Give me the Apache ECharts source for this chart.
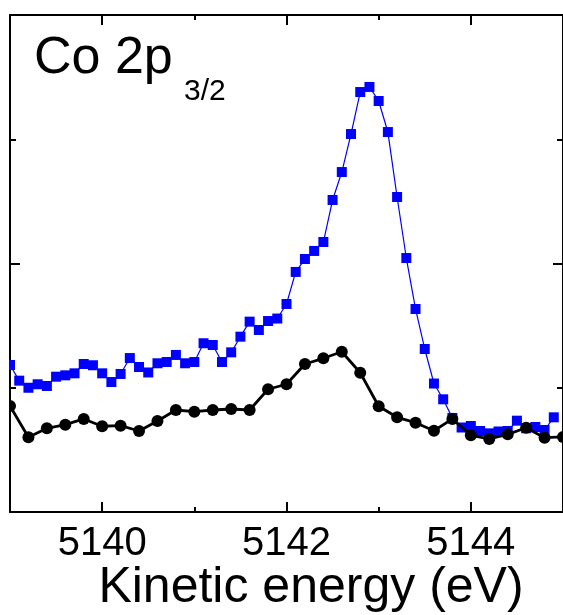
<!DOCTYPE html>
<html>
<head>
<meta charset="utf-8">
<script src="https://cdn.jsdelivr.net/npm/echarts@6/dist/echarts.min.js"></script>
<style>
html,body{margin:0;padding:0;background:#fff;}
#chart{width:563px;height:615px;}
</style>
</head>
<body>
<div id="chart"></div>
<script>
// ---- data (intensity in arbitrary units) ----
const blueEnergy = [5139.0,5139.1,5139.2,5139.3,5139.4,5139.5,5139.6,5139.7,5139.8,5139.9,
  5140.0,5140.1,5140.2,5140.3,5140.4,5140.5,5140.6,5140.7,5140.8,5140.9,
  5141.0,5141.1,5141.2,5141.3,5141.4,5141.5,5141.6,5141.7,5141.8,5141.9,
  5142.0,5142.1,5142.2,5142.3,5142.4,5142.5,5142.6,5142.7,5142.8,5142.9,
  5143.0,5143.1,5143.2,5143.3,5143.4,5143.5,5143.6,5143.7,5143.8,5143.9,
  5144.0,5144.1,5144.2,5144.3,5144.4,5144.5,5144.6,5144.7,5144.8,5144.9];
const blueIntensity = [1.183,1.057,1.000,1.028,1.014,1.089,1.100,1.116,1.191,1.181,
  1.116,1.046,1.111,1.239,1.167,1.123,1.197,1.207,1.264,1.197,
  1.207,1.358,1.344,1.207,1.285,1.411,1.532,1.465,1.537,1.557,
  1.674,1.932,2.036,2.101,2.173,2.511,2.736,3.042,3.380,3.421,
  3.308,3.058,2.535,2.044,1.634,1.312,1.034,0.907,0.757,0.680,
  0.692,0.652,0.633,0.648,0.652,0.735,0.674,0.684,0.660,0.762];
const blackEnergy = [5139.0,5139.2,5139.4,5139.6,5139.8,5140.0,5140.2,5140.4,5140.6,5140.8,
  5141.0,5141.2,5141.4,5141.6,5141.8,5142.0,5142.2,5142.4,5142.6,5142.8,
  5143.0,5143.2,5143.4,5143.6,5143.8,5144.0,5144.2,5144.4,5144.6,5144.8,5145.0];
const blackIntensity = [0.853,0.601,0.674,0.703,0.749,0.690,0.695,0.652,0.732,0.821,
  0.807,0.821,0.829,0.821,0.988,1.028,1.191,1.237,1.290,1.121,
  0.851,0.762,0.719,0.654,0.749,0.617,0.588,0.625,0.678,0.598,0.604];
const xMajorTicks = [5140, 5142, 5144];
const xMinorTicks = [5141, 5143];
const xRange = [5139, 5145];
const yRange = [0, 4];
const titleMain = 'Co 2p';
const titleSub = '3/2';
const xTitle = 'Kinetic energy (eV)';

const FONT = '"Liberation Sans", Arial, Helvetica, sans-serif';
const pair = (xs, ys) => xs.map((x, i) => [x, ys[i]]);

const chart = echarts.init(document.getElementById('chart'), null, {renderer: 'canvas'});
const lineCol = '#000';
function xAx(pos, ticks, len, showLine, showLabel) {
  return {
    type: 'value', position: pos, min: xRange[0], max: xRange[1],
    axisLine: {show: showLine, onZero: false, lineStyle: {color: lineCol, width: 2}},
    axisTick: {show: true, inside: true, length: len, customValues: ticks, lineStyle: {color: lineCol, width: 2}},
    axisLabel: {show: showLabel, customValues: ticks, margin: 12, color: '#000', fontSize: 40, fontFamily: FONT,
      formatter: v => String(v)},
    splitLine: {show: false}
  };
}
function yAx(pos, showLine) {
  return {
    type: 'value', position: pos, min: yRange[0], max: yRange[1], interval: 2,
    axisLine: {show: showLine, onZero: false, lineStyle: {color: lineCol, width: 2}},
    axisTick: {show: true, inside: true, length: 10, lineStyle: {color: lineCol, width: 2}},
    minorTick: {show: true, splitNumber: 2, length: 6, lineStyle: {color: lineCol, width: 2}},
    axisLabel: {show: false},
    splitLine: {show: false}
  };
}
const option = {
  animation: false,
  backgroundColor: '#fff',
  grid: {left: 10, top: 15, width: 558, height: 497, containLabel: false},
  xAxis: [
    xAx('bottom', xMajorTicks, 10, true, true),
    xAx('bottom', xMinorTicks, 5, false, false),
    xAx('top', xMajorTicks, 10, true, false),
    xAx('top', xMinorTicks, 5, false, false)
  ],
  yAxis: [yAx('left', true), yAx('right', true)],
  series: [
    {
      type: 'line', xAxisIndex: 0, yAxisIndex: 0,
      data: pair(blueEnergy, blueIntensity),
      symbol: 'rect', symbolSize: 10, showAllSymbol: true,
      itemStyle: {color: '#0000ff'},
      lineStyle: {color: '#0000ff', width: 1.2},
      z: 2
    },
    {
      type: 'line', xAxisIndex: 0, yAxisIndex: 0,
      data: pair(blackEnergy, blackIntensity),
      symbol: 'circle', symbolSize: 12, showAllSymbol: true,
      itemStyle: {color: '#000'},
      lineStyle: {color: '#000', width: 2.8},
      z: 3
    }
  ],
  graphic: [
    {type: 'rect', shape: {x: 0, y: 0, width: 9, height: 615}, style: {fill: '#fff'}, z: 100},
    {type: 'text', x: 34, y: 59, z: 101,
      style: {text: titleMain, font: '52px ' + FONT, fill: '#000', textAlign: 'left', textVerticalAlign: 'middle'}},
    {type: 'text', x: 184, y: 92, z: 101,
      style: {text: titleSub, font: '30px ' + FONT, fill: '#000', textAlign: 'left', textVerticalAlign: 'middle'}},
    {type: 'text', x: 311, y: 588, z: 101,
      style: {text: xTitle, font: '50px ' + FONT, fill: '#000', textAlign: 'center', textVerticalAlign: 'middle'}}
  ]
};
chart.setOption(option);
</script>
</body>
</html>
